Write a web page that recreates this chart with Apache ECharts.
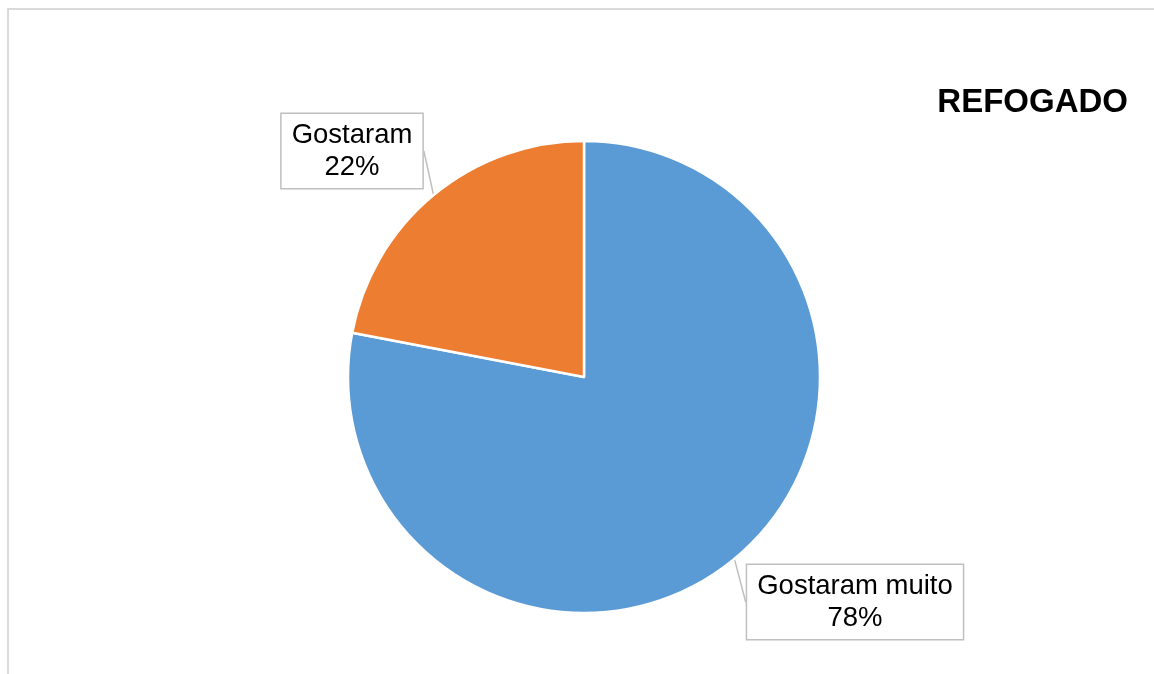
<!DOCTYPE html>
<html>
<head>
<meta charset="utf-8">
<script src="https://cdn.jsdelivr.net/npm/echarts@6/dist/echarts.min.js"></script>
<style>
  html, body { margin: 0; padding: 0; background: #fff; }
  #chart { width: 1154px; height: 674px; }
</style>
</head>
<body>
<div id="chart"></div>
<script>
// data
var categories = ["Gostaram muito", "Gostaram"];
var values = [78, 22];
var sliceColors = ["#5b9bd5", "#ed7d31"];
var chartTitle = "REFOGADO";

// label box centres (px)
var labelSpots = [[855, 602], [352, 151]];

var chart = echarts.init(document.getElementById("chart"));

var option = {
  animation: false,
  title: {
    text: chartTitle,
    right: 26,
    top: 86,
    padding: 0,
    textStyle: {
      fontFamily: "Liberation Sans, Arial, sans-serif",
      fontSize: 33,
      fontWeight: "bold",
      color: "#000"
    }
  },
  graphic: [
    {
      type: "rect",
      shape: { x: 8, y: 9, width: 1300, height: 800 },
      style: { fill: "none", stroke: "#d9d9d9", lineWidth: 2 },
      silent: true
    }
  ],
  series: [
    {
      type: "pie",
      center: [584, 377],
      radius: 236,
      startAngle: 90,
      clockwise: true,
      itemStyle: { borderColor: "#fff", borderWidth: 2.5 },
      label: {
        show: true,
        formatter: function (p) {
          return p.name + "\n" + Math.round(p.percent) + "%";
        },
        fontFamily: "Liberation Sans, Arial, sans-serif",
        fontSize: 27.5,
        lineHeight: 32,
        color: "#000",
        align: "center",
        backgroundColor: "#fff",
        borderColor: "#bfbfbf",
        borderWidth: 1.5,
        padding: [5, 10]
      },
      labelLine: {
        show: true,
        length: 0,
        length2: 0,
        smooth: false,
        lineStyle: { color: "#bfbfbf", width: 1.5 }
      },
      labelLayout: function (params) {
        var s = labelSpots[params.dataIndex];
        return { x: s[0], y: s[1], align: "center", verticalAlign: "middle" };
      },
      emphasis: { disabled: true },
      data: categories.map(function (c, i) {
        return { name: c, value: values[i], itemStyle: { color: sliceColors[i] } };
      })
    }
  ]
};

chart.setOption(option);
</script>
</body>
</html>
